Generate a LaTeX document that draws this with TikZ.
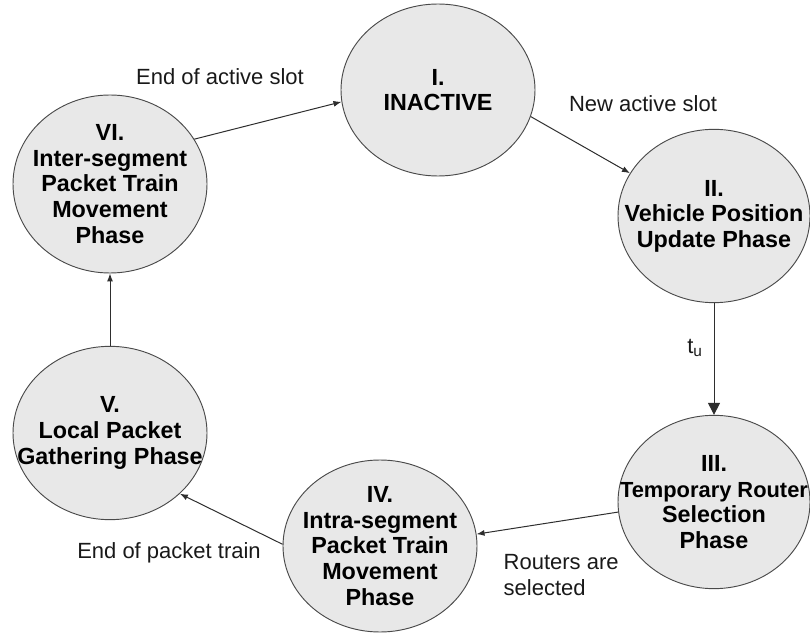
\documentclass[tikz,border=0pt]{standalone}
\usepackage{fontspec}
\setmainfont{Liberation Sans}
\usetikzlibrary{shapes.geometric,arrows.meta}
\definecolor{statefill}{HTML}{E8E8E8}
\definecolor{statedraw}{HTML}{4A4A4A}
\definecolor{linecol}{HTML}{2E2E2E}
\tikzset{
  state/.style={ellipse, draw=statedraw, fill=statefill, line width=0.7pt,
    minimum width=145.5pt, minimum height=130pt, inner sep=0pt},
  statetext/.style={align=center, font=\fontsize{17.5}{19.2}\selectfont\bfseries, text=black},
  edgelabel/.style={font=\fontsize{16.5}{19}\selectfont, text=black!90},
  conn/.style={draw=linecol, line width=0.75pt, -{Latex[length=6pt,width=4.5pt]}},
  bigconn/.style={draw=linecol, line width=0.75pt, -{Triangle[length=9pt,width=9pt]}}
}
\begin{document}
\begin{tikzpicture}[x=0.75pt,y=-0.75pt]
\useasboundingbox (0,0) rectangle (810,634);
\node[state, minimum height=129pt, label={[statetext]center:{I.\\INACTIVE}}] (s1) at (438,90) {};
\node[state, minimum width=144pt, label={[statetext]center:{II.\\Vehicle Position\\Update Phase}}] (s2) at (714,216) {};
\node[state, minimum width=144pt, label={[statetext]center:{III.\\{\fontsize{16.4}{19.2}\selectfont Temporary Router}\\Selection\\Phase}}] (s3) at (714,502) {};
\node[state, minimum height=129pt, label={[statetext]center:{IV.\\Intra-segment\\Packet Train\\Movement\\Phase}}] (s4) at (380,546) {};
\node[state, label={[statetext]center:{V.\\Local Packet\\Gathering Phase}}] (s5) at (110,433) {};
\node[state, minimum height=133.5pt, label={[statetext]center:{VI.\\Inter-segment\\Packet Train\\Movement\\Phase}}] (s6) at (110,184) {};

\draw[conn] (s6.28.5) -- (s1.187);
\draw[conn] (s1.-16.4) -- (s2.153.7);
\draw[bigconn] (s2.south) -- (s3.north);
\draw[conn] (s3.186.5) -- (s4.7);
\draw[conn] (s4.179) -- (s5.-41);
\draw[conn] (s5.north) -- (s6.south);

\node[edgelabel] (l1) at (220,77) {End of active slot};
\node[edgelabel] (l2) at (643,104) {New active slot};
\node[edgelabel] (l3) at (695,348) {t\textsubscript{u}};
\node[edgelabel, align=left, anchor=west] (l4) at (499,575) {Routers are\\selected};
\node[edgelabel] (l5) at (169,553) {End of packet train};
\end{tikzpicture}
\end{document}
